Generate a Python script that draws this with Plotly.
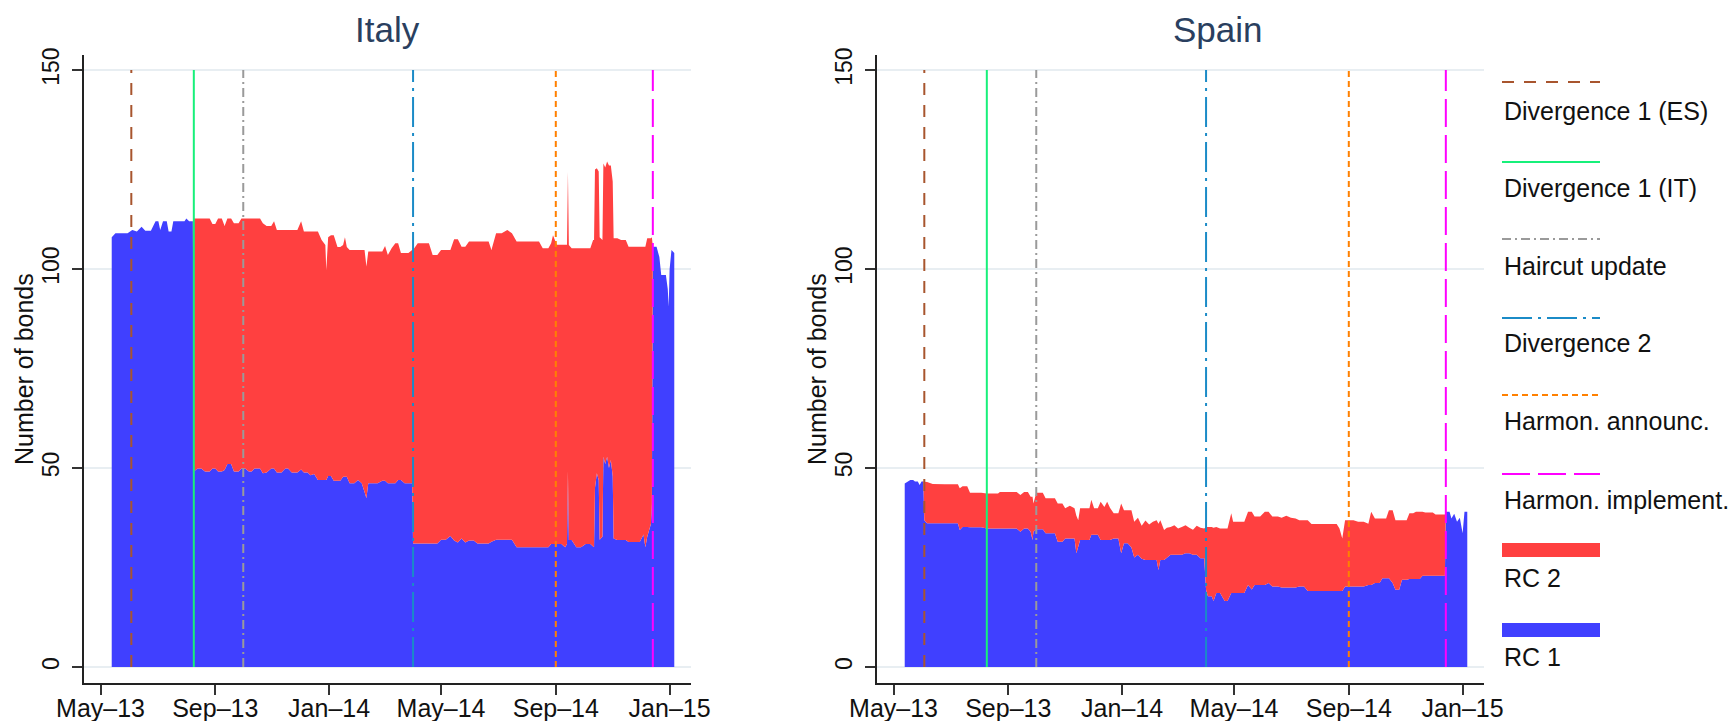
import plotly.graph_objects as go

W, H = 1736, 721

# ---------------- data ----------------
tick_dates = ["2013-05-01", "2013-09-01", "2014-01-01", "2014-05-01", "2014-09-01", "2015-01-01"]
tick_text = ["May\u201313", "Sep\u201313", "Jan\u201314", "May\u201314", "Sep\u201314", "Jan\u201315"]
y_ticks = [0, 50, 100, 150]
y_title = "Number of bonds"

event_names = ["Divergence 1 (ES)", "Divergence 1 (IT)", "Haircut update",
               "Divergence 2", "Harmon. announc.", "Harmon. implement."]
event_dates = ["2013-06-03", "2013-08-09", "2013-10-01", "2014-04-01", "2014-09-01", "2014-12-14"]
event_colors = ["#a8552e", "#17f07a", "#9a9a9a", "#1b8bc7", "#ff8000", "#ff00ff"]
event_dashes = ["12px,10px", "solid", "9px,4px,2px,4px", "30px,6px,3px,6px", "6px,4px", "28px,8px"]
event_span = [0, 150]

rc_names = ["RC 2", "RC 1"]
rc_colors = ["#ff4040", "#4040ff"]

it_dates = [
    "2013-05-13", "2013-05-17", "2013-05-23", "2013-05-30", "2013-06-04", "2013-06-09", "2013-06-14",
    "2013-06-18", "2013-06-24", "2013-06-29", "2013-07-02", "2013-07-04", "2013-07-07", "2013-07-11",
    "2013-07-13", "2013-07-16", "2013-07-18", "2013-07-25", "2013-07-30", "2013-08-01", "2013-08-04",
    "2013-08-08",
    "2013-08-09", "2013-08-13", "2013-08-17", "2013-08-21", "2013-08-26", "2013-08-29", "2013-09-01",
    "2013-09-04", "2013-09-08", "2013-09-11", "2013-09-14", "2013-09-18", "2013-09-21", "2013-09-26",
    "2013-09-29", "2013-10-03", "2013-10-07", "2013-10-10", "2013-10-13", "2013-10-19", "2013-10-22",
    "2013-10-26", "2013-10-31", "2013-11-03", "2013-11-06", "2013-11-11", "2013-11-15", "2013-11-18",
    "2013-11-22", "2013-11-28", "2013-12-02", "2013-12-05", "2013-12-09", "2013-12-12", "2013-12-16",
    "2013-12-20", "2013-12-24", "2013-12-28", "2013-12-29", "2013-12-31", "2014-01-03", "2014-01-06",
    "2014-01-10", "2014-01-13", "2014-01-16", "2014-01-18", "2014-01-20", "2014-01-23", "2014-01-28",
    "2014-02-01", "2014-02-05", "2014-02-08", "2014-02-10", "2014-02-12", "2014-02-17", "2014-02-22",
    "2014-02-27", "2014-03-02", "2014-03-05", "2014-03-09", "2014-03-13", "2014-03-16", "2014-03-19",
    "2014-03-23", "2014-03-27", "2014-03-31",
    "2014-04-01", "2014-04-06", "2014-04-12", "2014-04-18", "2014-04-22", "2014-04-27", "2014-05-01",
    "2014-05-06", "2014-05-11", "2014-05-15", "2014-05-19", "2014-05-23", "2014-05-27", "2014-05-31",
    "2014-06-05", "2014-06-09", "2014-06-15", "2014-06-21", "2014-06-24", "2014-06-29", "2014-07-05",
    "2014-07-11", "2014-07-16", "2014-07-21", "2014-07-27", "2014-08-02", "2014-08-08", "2014-08-14",
    "2014-08-18", "2014-08-24", "2014-08-27", "2014-08-29", "2014-09-02", "2014-09-07", "2014-09-11",
    "2014-09-13", "2014-09-14", "2014-09-15", "2014-09-18", "2014-09-23", "2014-09-28", "2014-10-03",
    "2014-10-08", "2014-10-11", "2014-10-12", "2014-10-13", "2014-10-15", "2014-10-17", "2014-10-18",
    "2014-10-21", "2014-10-22", "2014-10-24", "2014-10-26", "2014-10-28", "2014-10-30", "2014-11-01",
    "2014-11-02", "2014-11-06", "2014-11-10", "2014-11-15", "2014-11-18", "2014-11-24", "2014-11-30",
    "2014-12-04", "2014-12-06", "2014-12-08", "2014-12-10", "2014-12-12", "2014-12-13",
    "2014-12-14", "2014-12-18", "2014-12-21", "2014-12-23", "2014-12-28", "2014-12-30", "2014-12-31",
    "2015-01-01", "2015-01-03", "2015-01-06",
]
it_rc1 = [
    108.0, 109.0, 109.0, 109.0, 109.8, 109.4, 110.6,
    109.6, 109.6, 112.0, 112.0, 109.8, 112.0, 112.0,
    109.4, 109.4, 112.0, 112.0, 112.0, 112.7, 112.0,
    112.0,
    49.1, 49.9, 49.9, 49.1, 49.1, 49.9, 49.9,
    49.1, 49.1, 49.5, 51.0, 51.0, 49.1, 49.1,
    49.9, 49.9, 49.1, 49.1, 49.9, 49.9, 48.7,
    48.9, 49.9, 49.9, 48.9, 48.9, 49.9, 49.9,
    48.9, 48.9, 49.6, 48.9, 48.9, 48.2, 48.5,
    47.0, 47.0, 47.0, 47.0, 48.0, 48.0, 46.8,
    46.8, 46.8, 47.8, 47.8, 47.8, 46.2, 46.2,
    47.0, 46.2, 44.0, 42.4, 46.2, 46.2, 46.2,
    46.8, 46.8, 46.2, 46.2, 46.2, 47.0, 47.0,
    46.2, 46.2, 46.2,
    31.0, 31.0, 31.0, 31.0, 31.0, 31.0, 32.0,
    32.0, 32.9, 31.8, 31.3, 32.3, 31.3, 31.8,
    31.8, 31.0, 31.0, 31.0, 31.5, 32.0, 32.0,
    32.0, 32.0, 30.1, 30.1, 30.1, 30.1, 30.1,
    30.1, 30.1, 30.9, 30.9, 30.9, 30.9, 30.1,
    30.9, 49.1, 31.9, 31.9, 30.1, 30.1, 30.9,
    30.9, 30.1, 30.1, 45.0, 48.7, 47.0, 32.0,
    32.7, 52.8, 51.0, 52.8, 50.0, 52.0, 48.0,
    32.3, 31.9, 31.9, 31.9, 31.4, 31.4, 31.4,
    33.3, 30.1, 32.7, 34.3, 36.0, 41.0,
    105.6, 105.6, 103.0, 98.5, 98.5, 95.0, 90.5,
    100.0, 104.8, 104.0,
]
it_rc2 = [
    0, 0, 0, 0, 0, 0, 0,
    0, 0, 0, 0, 0, 0, 0,
    0, 0, 0, 0, 0, 0, 0,
    0,
    63.6, 62.8, 62.8, 63.6, 63.6, 61.4, 61.4,
    63.6, 63.6, 61.3, 61.7, 61.7, 62.4, 62.4,
    62.8, 62.8, 63.6, 63.6, 62.8, 62.8, 62.8,
    61.9, 60.9, 62.1, 60.9, 60.9, 59.9, 59.9,
    60.9, 60.9, 62.4, 60.5, 60.5, 61.2, 60.9,
    62.4, 60.3, 59.0, 52.7, 60.0, 60.5, 61.7,
    58.7, 58.7, 58.2, 60.2, 57.7, 58.6, 58.6,
    57.8, 58.6, 60.8, 58.2, 58.2, 58.2, 58.2,
    57.6, 59.0, 57.3, 59.0, 60.3, 59.5, 57.0,
    57.8, 57.8, 58.6,
    73.8, 75.5, 75.5, 75.5, 72.5, 72.5, 72.8,
    72.8, 71.9, 75.7, 76.2, 73.3, 74.3, 75.1,
    75.1, 75.9, 75.9, 75.9, 73.3, 77.0, 77.0,
    77.8, 77.0, 76.8, 76.8, 76.8, 76.8, 76.8,
    75.1, 75.1, 75.6, 77.6, 75.2, 75.2, 76.0,
    75.2, 75.3, 74.1, 73.3, 75.1, 75.1, 74.3,
    74.3, 77.2, 77.2, 80.0, 76.6, 77.5, 76.0,
    74.6, 73.7, 74.5, 74.2, 76.0, 74.0, 74.0,
    75.4, 75.8, 75.4, 75.4, 74.2, 74.2, 74.2,
    72.3, 75.5, 75.0, 73.4, 71.7, 67.0,
    0, 0, 0, 0, 0, 0, 0,
    0, 0, 0,
]

es_dates = [
    "2013-05-13", "2013-05-16", "2013-05-19", "2013-05-22", "2013-05-24", "2013-05-27", "2013-05-29",
    "2013-05-31", "2013-06-02",
    "2013-06-03", "2013-06-06", "2013-06-12", "2013-06-18", "2013-06-25", "2013-07-02", "2013-07-09",
    "2013-07-11", "2013-07-14", "2013-07-19", "2013-07-22", "2013-07-28", "2013-08-03", "2013-08-09",
    "2013-08-15", "2013-08-21", "2013-08-23", "2013-08-29", "2013-09-04", "2013-09-10", "2013-09-14",
    "2013-09-18", "2013-09-22", "2013-09-25", "2013-09-27", "2013-09-28", "2013-10-01", "2013-10-05",
    "2013-10-08", "2013-10-11", "2013-10-16", "2013-10-21", "2013-10-24", "2013-10-29", "2013-11-01",
    "2013-11-06", "2013-11-11", "2013-11-13", "2013-11-15", "2013-11-17", "2013-11-22", "2013-11-27",
    "2013-11-29", "2013-12-02", "2013-12-06", "2013-12-09", "2013-12-13", "2013-12-16", "2013-12-19",
    "2013-12-23", "2013-12-28", "2013-12-31", "2014-01-03", "2014-01-07", "2014-01-11", "2014-01-14",
    "2014-01-18", "2014-01-22", "2014-01-26", "2014-01-30", "2014-02-03", "2014-02-07", "2014-02-09",
    "2014-02-11", "2014-02-15", "2014-02-18", "2014-02-22", "2014-02-26", "2014-03-02", "2014-03-06",
    "2014-03-10", "2014-03-14", "2014-03-18", "2014-03-22", "2014-03-26", "2014-03-30",
    "2014-04-01", "2014-04-03", "2014-04-07", "2014-04-09", "2014-04-12", "2014-04-16", "2014-04-21",
    "2014-04-24", "2014-04-28", "2014-04-30", "2014-05-06", "2014-05-12", "2014-05-16", "2014-05-20",
    "2014-05-23", "2014-05-29", "2014-06-03", "2014-06-07", "2014-06-11", "2014-06-17", "2014-06-21",
    "2014-06-26", "2014-07-01", "2014-07-06", "2014-07-10", "2014-07-15", "2014-07-19", "2014-07-23",
    "2014-07-30", "2014-08-06", "2014-08-13", "2014-08-19", "2014-08-22", "2014-08-25", "2014-08-28",
    "2014-09-01", "2014-09-06", "2014-09-11", "2014-09-17", "2014-09-22", "2014-09-25", "2014-09-29",
    "2014-10-04", "2014-10-07", "2014-10-11", "2014-10-14", "2014-10-18", "2014-10-21", "2014-10-25",
    "2014-10-28", "2014-11-02", "2014-11-05", "2014-11-09", "2014-11-12", "2014-11-16", "2014-11-19",
    "2014-11-22", "2014-11-27", "2014-11-30", "2014-12-03", "2014-12-08", "2014-12-13",
    "2014-12-14", "2014-12-18", "2014-12-20", "2014-12-23", "2014-12-26", "2014-12-29", "2015-01-01",
    "2015-01-03", "2015-01-06",
]
es_rc1 = [
    46.1, 46.6, 47.0, 47.0, 46.6, 46.6, 45.7,
    46.6, 46.6,
    36.9, 36.1, 36.1, 36.1, 36.1, 36.1, 36.1,
    34.4, 35.2, 35.2, 35.1, 35.1, 35.1, 34.8,
    34.8, 34.8, 34.8, 34.8, 34.8, 34.8, 34.0,
    34.8, 34.8, 34.0, 31.9, 34.0, 34.6, 34.6,
    34.6, 33.6, 33.6, 33.6, 31.5, 31.5, 32.3,
    32.3, 32.3, 28.6, 30.5, 31.9, 31.9, 31.9,
    33.2, 33.2, 33.2, 31.9, 31.9, 31.9, 31.9,
    32.3, 32.3, 28.6, 31.1, 31.1, 30.0, 27.5,
    28.2, 27.2, 26.9, 26.9, 26.9, 26.9, 24.4,
    26.9, 26.9, 27.5, 28.2, 28.2, 28.2, 28.2,
    28.6, 28.6, 28.2, 28.2, 27.3, 27.3,
    19.4, 17.8, 17.8, 16.6, 18.6, 18.6, 16.6,
    16.6, 18.6, 18.6, 18.6, 18.6, 20.6, 19.5,
    20.6, 20.6, 20.6, 21.1, 20.2, 20.2, 20.0,
    20.0, 20.0, 20.0, 20.2, 20.2, 19.1, 19.1,
    19.1, 19.1, 19.1, 19.1, 19.1, 19.1, 20.2,
    20.2, 20.2, 20.2, 20.2, 20.6, 20.6, 21.1,
    21.1, 22.3, 22.3, 22.3, 21.1, 19.4, 19.4,
    21.9, 21.9, 22.1, 22.1, 22.1, 22.1, 22.9,
    22.9, 22.9, 22.9, 22.9, 22.9, 22.9,
    39.0, 39.0, 37.3, 38.5, 36.5, 37.5, 33.6,
    39.0, 39.0,
]
es_rc2 = [
    0, 0, 0, 0, 0, 0, 0,
    0, 0,
    9.6, 10.4, 9.9, 9.8, 9.8, 9.8, 9.8,
    10.5, 10.2, 10.2, 8.7, 8.7, 8.7, 8.8,
    8.8, 8.8, 9.2, 9.2, 9.2, 9.2, 9.2,
    9.2, 9.2, 8.8, 10.9, 7.1, 9.2, 9.2,
    9.2, 8.8, 8.8, 8.8, 9.6, 9.6, 7.6,
    8.2, 7.6, 9.4, 6.4, 8.0, 8.0, 8.0,
    8.8, 6.7, 6.7, 9.6, 8.3, 9.6, 8.1,
    6.3, 6.3, 12.5, 8.3, 8.3, 9.4, 9.0,
    9.3, 8.3, 9.9, 8.9, 9.6, 10.0, 11.6,
    10.0, 7.5, 7.5, 7.0, 7.4, 6.6, 7.0,
    7.0, 6.4, 6.3, 7.3, 7.7, 7.5,
    15.8, 17.4, 17.4, 18.4, 16.6, 16.2, 18.2,
    18.2, 20.0, 17.9, 17.9, 17.9, 18.4, 19.5,
    17.2, 17.2, 18.4, 17.9, 17.6, 17.6, 17.5,
    18.0, 17.5, 17.3, 16.7, 16.7, 17.8, 16.8,
    16.8, 16.8, 16.8, 16.8, 15.7, 13.2, 16.7,
    16.7, 16.7, 16.3, 16.3, 15.4, 18.4, 16.2,
    16.2, 15.0, 15.0, 17.1, 18.3, 17.5, 17.5,
    15.0, 15.0, 16.5, 16.5, 16.9, 16.9, 16.1,
    15.9, 15.9, 15.9, 15.4, 15.4, 15.4,
    0, 0, 0, 0, 0, 0, 0,
    0, 0,
]

# ---------------- layout geometry (pixels of the 1736x721 page) ----------------
FONT = "Liberation Sans, Arial, Helvetica, sans-serif"
panels = [
    dict(name="Italy", dates=it_dates, rc1=it_rc1, rc2=it_rc2, x0=84, x1=691, title_x=387),
    dict(name="Spain", dates=es_dates, rc1=es_rc1, rc2=es_rc2, x0=877, x1=1484, title_x=1218),
]
plot_top, plot_bottom = 55, 683
ytitle_offset = 60
x_range = ["2013-04-13 07:00", "2015-01-23 22:00"]
y_range = [-4.02, 153.77]


def px(x):
    return x / W


def py(y):
    return 1 - y / H


fig = go.Figure()
layout = dict(
    template="none",
    width=W, height=H, autosize=False, margin=dict(l=0, r=0, t=0, b=0, pad=0),
    paper_bgcolor="white", plot_bgcolor="white", showlegend=False,
    font=dict(family=FONT, color="#111111"),
)
annotations = []
shapes = []

for i, p in enumerate(panels, start=1):
    xa = "x" if i == 1 else f"x{i}"
    ya = "y" if i == 1 else f"y{i}"
    # stacked areas: RC 1 at the bottom, RC 2 stacked on top
    fig.add_trace(go.Scatter(
        x=p["dates"], y=p["rc1"], name="RC 1", mode="lines", stackgroup=f"s{i}",
        line=dict(width=0, color=rc_colors[1]), fillcolor=rc_colors[1],
        xaxis=xa, yaxis=ya, hoverinfo="skip"))
    fig.add_trace(go.Scatter(
        x=p["dates"], y=p["rc2"], name="RC 2", mode="lines", stackgroup=f"s{i}",
        line=dict(width=0, color=rc_colors[0]), fillcolor=rc_colors[0],
        xaxis=xa, yaxis=ya, hoverinfo="skip"))
    # event lines
    for name, d, c, dash in zip(event_names, event_dates, event_colors, event_dashes):
        fig.add_trace(go.Scatter(
            x=[d, d], y=event_span, mode="lines", name=name,
            line=dict(color=c, width=2, dash=dash), xaxis=xa, yaxis=ya, hoverinfo="skip"))

    xkey = "xaxis" if i == 1 else f"xaxis{i}"
    ykey = "yaxis" if i == 1 else f"yaxis{i}"
    layout[xkey] = dict(
        domain=[px(p["x0"]), px(p["x1"])], anchor=ya, type="date", range=x_range,
        automargin=False,
        tickmode="array", tickvals=tick_dates, ticktext=tick_text, ticklabelstandoff=-8,
        ticks="outside", ticklen=10, tickwidth=1.5, tickcolor="#333333",
        showline=True, linecolor="#222222", linewidth=1.5, showgrid=False, zeroline=False,
        tickfont=dict(family=FONT, size=25, color="#111111"),
    )
    layout[ykey] = dict(
        domain=[py(plot_bottom), py(plot_top)], anchor=xa, range=y_range,
        automargin=False,
        tickmode="array", tickvals=y_ticks, tickangle=-90, ticklabelstandoff=4,
        ticks="outside", ticklen=10, tickwidth=1.5, tickcolor="#333333",
        showline=True, linecolor="#222222", linewidth=1.5,
        showgrid=True, gridcolor="#e8eef2", gridwidth=2, zeroline=False,
        tickfont=dict(family=FONT, size=23, color="#111111"),
    )
    # y-axis title
    annotations.append(dict(
        text=y_title, textangle=-90, x=px(p["x0"] - ytitle_offset), y=py((plot_top + plot_bottom) / 2),
        xref="paper", yref="paper", xanchor="center", yanchor="middle", showarrow=False,
        font=dict(family=FONT, size=25, color="#111111")))
    # panel title
    annotations.append(dict(
        text=p["name"], x=px(p["title_x"]), y=py(30), xref="paper", yref="paper",
        xanchor="center", yanchor="middle", showarrow=False,
        font=dict(family=FONT, size=35, color="#2a3f5f")))

# ---------------- legend (sample above label, drawn in page coordinates) ----------------
leg_x0, leg_x1 = 1502, 1600
sample_y = [82, 162, 239, 318, 395, 474, 550, 630]
label_y = [111, 188, 266, 343, 421, 500, 578, 657]
leg_names = event_names + rc_names
for k, name in enumerate(leg_names):
    if k < len(event_names):
        shapes.append(dict(
            type="line", xref="paper", yref="paper",
            x0=px(leg_x0), x1=px(leg_x1), y0=py(sample_y[k]), y1=py(sample_y[k]),
            line=dict(color=event_colors[k], width=2, dash=event_dashes[k])))
    else:
        c = rc_colors[k - len(event_names)]
        shapes.append(dict(
            type="rect", xref="paper", yref="paper",
            x0=px(leg_x0), x1=px(leg_x1), y0=py(sample_y[k] + 7), y1=py(sample_y[k] - 7),
            line=dict(width=0), fillcolor=c))
    annotations.append(dict(
        text=name, x=px(leg_x0), y=py(label_y[k]), xref="paper", yref="paper",
        xanchor="left", yanchor="middle", showarrow=False,
        font=dict(family=FONT, size=25, color="#111111")))

layout["annotations"] = annotations
layout["shapes"] = shapes
fig.update_layout(**layout)
fig.write_html(
    "out.html",
    config={"displayModeBar": False},
    post_script="document.body.style.margin='0px';document.body.style.padding='0px';",
)
